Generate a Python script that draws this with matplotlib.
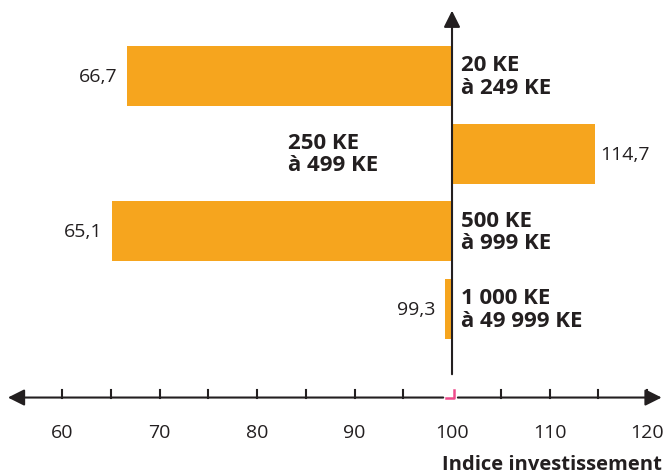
import matplotlib
matplotlib.use('Agg')
import matplotlib.pyplot as plt

# Data
categories = ['20 KE\nà 249 KE', '250 KE\nà 499 KE', '500 KE\nà 999 KE', '1 000 KE\nà 49 999 KE']
values = [66.7, 114.7, 65.1, 99.3]
value_labels = ['66,7', '114,7', '65,1', '99,3']
tick_values = [60, 70, 80, 90, 100, 110, 120]
minor_ticks = [60, 65, 70, 75, 80, 85, 90, 95, 105, 110, 115, 120]
BASE = 100
AXIS_LABEL = 'Indice investissement'

ORANGE = '#F6A51E'
DARK = '#231F20'
PINK = '#EE4A8B'

plt.rcParams['font.family'] = ['Open Sans', 'DejaVu Sans']

fig = plt.figure(figsize=(6.67, 4.77), dpi=100)
ax = fig.add_axes([0, 0, 1, 1])
ax.set_xlim(53.64, 122.05)
ax.set_ylim(5.15, -0.99)
ax.axis('off')

y = list(range(len(values)))

# ── Bars from the base 100 ───────────────────────────────────────────────────
ax.barh(y, [v - BASE for v in values], left=BASE, height=0.77,
        color=ORANGE, zorder=2)

# ── Labels ───────────────────────────────────────────────────────────────────
for i, (v, lab, cat) in enumerate(zip(values, value_labels, categories)):
    if v < BASE:
        ax.text(v - 1.0, i, lab, ha='right', va='center', fontsize=14, color=DARK)
    else:
        ax.text(v + 0.5, i, lab, ha='left', va='center', fontsize=14, color=DARK)
    x_cat = 83.2 if v > BASE else 100.9
    ax.text(x_cat, i, cat, ha='left', va='center', fontsize=16,
            fontweight='bold', color=DARK, linespacing=1.08)

# ── Axes drawn by hand ───────────────────────────────────────────────────────
y_axis = 4.14
arrow = dict(arrowstyle='-|>,head_length=0.5,head_width=0.25', color=DARK,
             lw=1.5, shrinkA=0, shrinkB=0, mutation_scale=20)
ax.annotate('', xy=(54.45, y_axis), xytext=(99.1, y_axis), arrowprops=arrow)
ax.annotate('', xy=(121.5, y_axis), xytext=(100.6, y_axis), arrowprops=arrow)
ax.annotate('', xy=(BASE, -0.84), xytext=(BASE, 3.84), arrowprops=arrow)

for t in minor_ticks:
    ax.plot([t, t], [y_axis, y_axis - 0.1], color=DARK, lw=1.5, zorder=3)
for t in tick_values:
    ax.text(t, 4.59, str(t), ha='center', va='center', fontsize=14, color=DARK)

# little pink corner at the origin
ax.plot([99.4, 100.2, 100.2], [y_axis, y_axis, y_axis - 0.1], color=PINK, lw=1.8,
        zorder=3)

ax.text(121.5, 4.99, AXIS_LABEL, ha='right', va='center', fontsize=14.5,
        fontweight='bold', color=DARK)

fig.savefig('out.png', dpi=100)
plt.close()
